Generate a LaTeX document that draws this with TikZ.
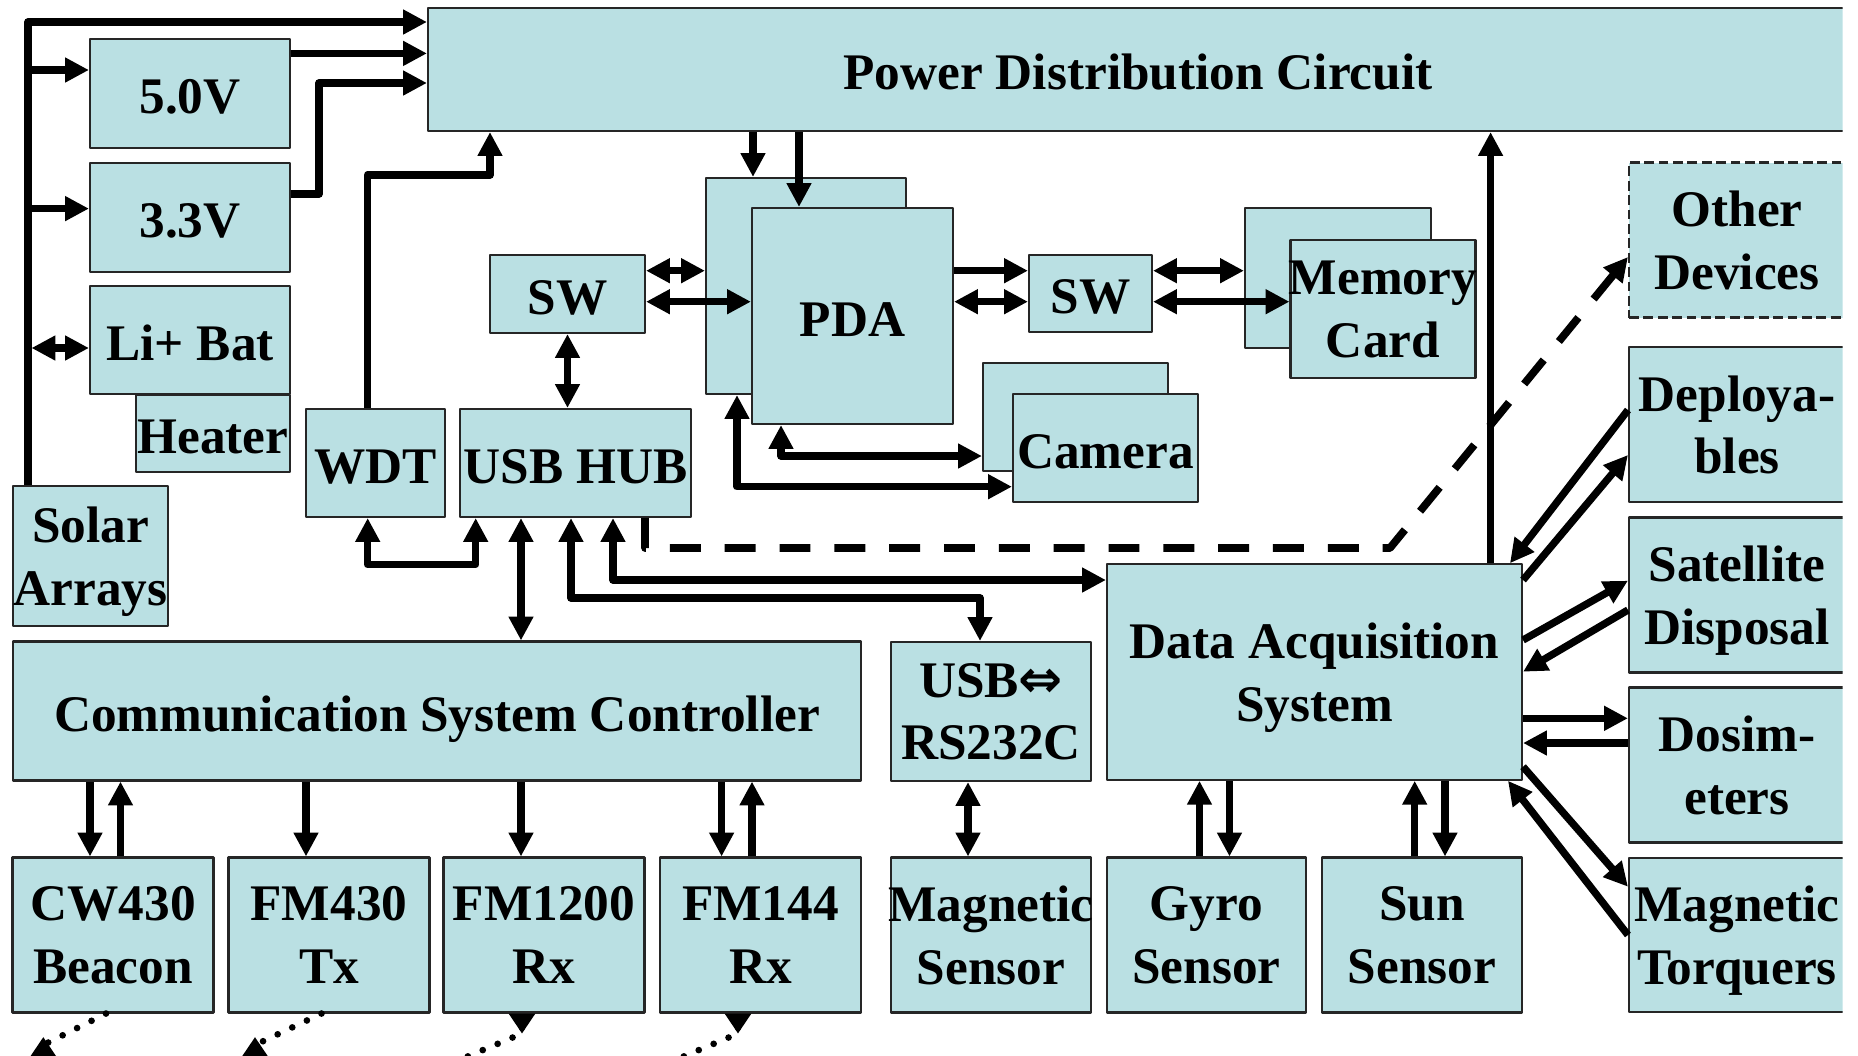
\documentclass[tikz,border=0pt]{standalone}
\usepackage{fontspec}
\setmainfont{Liberation Serif}
\newfontfamily\arrowfont{DejaVu Sans}
\usetikzlibrary{arrows.meta}
\definecolor{boxfill}{RGB}{186,224,227}

\begin{document}
\begin{tikzpicture}[x=1cm,y=-1cm,>={Triangle[length=6.8pt,width=6.7pt]},line join=round,
  blk/.style={draw=black!85,line width=0.6pt,fill=boxfill,inner xsep=-8pt,inner ysep=0pt,align=center,
    text depth=0pt,execute at begin node={\rule{0pt}{11.5pt}},font=\fontsize{14.6}{17.8}\selectfont\bfseries},
  arr/.style={->,line width=2.1pt},
  dbl/.style={<->,line width=2.1pt},
  dashline/.style={->,line width=2.2pt,dash pattern=on 8.8pt off 6.8pt},
  sig/.style={line width=1.9pt,line cap=round,dash pattern=on 0pt off 4.6pt},
  rxtip/.style={sig,{Triangle[reversed,length=5.7pt,width=7.2pt]}-},
  txtip/.style={sig,-{Triangle[reversed,length=5.7pt,width=7.2pt]}}]
\useasboundingbox (0,0) rectangle (18.58,10.56);
\begin{scope}
\clip (0,0) rectangle (18.427,10.56);
% power
\node[blk,minimum width=14.20cm,minimum height=1.234cm] (pdc) at (11.38,0.693) {Power Distribution Circuit};
\node[blk,minimum width=2.00cm,minimum height=1.086cm] (v50) at (1.90,0.933) {5.0V};
\node[blk,minimum width=2.00cm,minimum height=1.09cm] (v33) at (1.90,2.175) {3.3V};
\node[blk,minimum width=1.545cm,minimum height=0.77cm] (heat) at (2.13,4.335) {Heater};
\node[blk,minimum width=2.00cm,minimum height=1.08cm] (bat) at (1.90,3.40) {Li+ Bat};
\node[blk,minimum width=1.55cm,minimum height=1.40cm] (solar) at (0.905,5.56) {Solar\\Arrays};
% main controller
\node[blk,minimum width=1.39cm,minimum height=1.08cm] (wdt) at (3.755,4.63) {WDT};
\node[blk,minimum width=2.31cm,minimum height=1.08cm] (hub) at (5.755,4.63) {USB HUB};
\node[blk,minimum width=1.55cm,minimum height=0.78cm] (swl) at (5.675,2.94) {SW};
\node[blk,minimum width=2.00cm,minimum height=2.16cm] (pdab) at (8.06,2.86) {};
\node[blk,minimum width=2.01cm,minimum height=2.16cm] (pda) at (8.525,3.16) {PDA};
\node[blk,minimum width=1.23cm,minimum height=0.77cm] (swr) at (10.905,2.935) {SW};
\node[blk,minimum width=1.86cm,minimum height=1.40cm] (memb) at (13.38,2.78) {};
\node[blk,minimum width=1.85cm,minimum height=1.38cm] (mem) at (13.83,3.09) {Memory\\Card};
\node[blk,minimum width=1.85cm,minimum height=1.08cm] (camb) at (10.755,4.17) {};
\node[blk,minimum width=1.85cm,minimum height=1.08cm] (cam) at (11.055,4.48) {Camera};
% attitude and mission
\node[blk,dash pattern=on 2.8pt off 1.3pt,minimum width=2.16cm,minimum height=1.55cm] (oth) at (17.37,2.40) {Other\\Devices};
\node[blk,minimum width=2.16cm,minimum height=1.55cm] (dep) at (17.37,4.245) {Deploya-\\bles};
\node[blk,minimum width=2.16cm,minimum height=1.55cm] (sat) at (17.37,5.95) {Satellite\\Disposal};
\node[blk,minimum width=2.16cm,minimum height=1.55cm] (dos) at (17.37,7.65) {Dosim-\\eters};
\node[blk,minimum width=2.16cm,minimum height=1.54cm] (mtq) at (17.37,9.35) {Magnetic\\Torquers};
\node[blk,minimum width=4.15cm,minimum height=2.155cm] (das) at (13.145,6.72) {Data Acquisition\\System};
\node[blk,minimum width=2.00cm,minimum height=1.39cm] (rs) at (9.91,7.115) {USB{\arrowfont\fontsize{15}{17.8}\selectfont ⇔}\\RS232C};
\node[blk,minimum width=2.00cm,minimum height=1.55cm] (mag) at (9.91,9.35) {Magnetic\\Sensor};
\node[blk,minimum width=1.99cm,minimum height=1.55cm] (gyro) at (12.065,9.35) {Gyro\\Sensor};
\node[blk,minimum width=2.00cm,minimum height=1.55cm] (sun) at (14.22,9.35) {Sun\\Sensor};
% communication
\node[blk,minimum width=8.48cm,minimum height=1.39cm] (csc) at (4.37,7.11) {Communication System Controller};
\node[blk,minimum width=2.01cm,minimum height=1.55cm] (cw) at (1.13,9.35) {CW430\\Beacon};
\node[blk,minimum width=2.01cm,minimum height=1.55cm] (fmt) at (3.29,9.35) {FM430\\Tx};
\node[blk,minimum width=2.01cm,minimum height=1.55cm] (fmr) at (5.44,9.35) {FM1200\\Rx};
\node[blk,minimum width=2.01cm,minimum height=1.55cm] (fmv) at (7.605,9.35) {FM144\\Rx};
% bus branch points and antenna ends
\coordinate (b50) at (0.28,0.70);
\coordinate (b33) at (0.28,2.086);
\coordinate (bbat) at (0.315,3.48);
\coordinate (tx1) at (0.433,10.45);
\coordinate (tx2) at (2.55,10.45);
\coordinate (rx1) at (4.45,10.66);
\coordinate (rx2) at (6.61,10.66);
% power lines
\draw[arr] (solar.north -| b50) |- (pdc.west |- 0,0.22);
\draw[arr] (b50) -- (v50.west |- b50);
\draw[arr] (b33) -- (v33.west |- b33);
\draw[dbl] (bbat) -- (bat.west |- bbat);
\draw[arr] (v50.east |- 0,0.534) -- (pdc.west |- 0,0.534);
\draw[arr] (v33.east |- 0,1.94) -| (3.19,0.83) -- (pdc.west |- 0,0.83);
\draw[arr] (wdt.north -| 3.676,0) |- (4.90,1.75) -- (pdc.south -| 4.90,0);
\draw[arr] (pdc.south -| 7.53,0) -- (pdab.north -| 7.53,0);
\draw[arr] (pdc.south -| 7.99,0) -- (pda.north -| 7.99,0);
\draw[arr] (das.north -| 14.906,0) -- (pdc.south -| 14.906,0);
% data lines
\draw[dbl] (wdt.south -| 3.677,0) |- (4.757,5.645) -- (hub.south -| 4.757,0);
\draw[dbl] (swl.south) -- (hub.north -| swl.south);
\draw[dbl] (hub.south -| 5.21,0) -- (csc.north -| 5.21,0);
\draw[dbl] (hub.south -| 5.71,0) |- (9.80,5.98) -- (rs.north -| 9.80,0);
\draw[dbl] (hub.south -| 6.13,0) |- (das.west |- 0,5.80);
\draw[dashline] (hub.south -| 6.45,0) |- (13.90,5.48) -- (oth.west |- 0,2.57);
\draw[dbl] (swl.east |- 0,2.707) -- (pdab.west |- 0,2.707);
\draw[dbl] (swl.east |- 0,3.017) -- (pda.west |- 0,3.017);
\draw[arr] (pda.east |- 0,2.707) -- (swr.west |- 0,2.707);
\draw[dbl] (pda.east |- 0,3.017) -- (swr.west |- 0,3.017);
\draw[dbl] (swr.east |- 0,2.707) -- (memb.west |- 0,2.707);
\draw[dbl] (swr.east |- 0,3.017) -- (mem.west |- 0,3.017);
\draw[dbl] (pda.south -| 7.81,0) |- (camb.west |- 0,4.56);
\draw[dbl] (pdab.south -| 7.37,0) |- (cam.west |- 0,4.867);
\draw[dbl] (rs.south -| 9.68,0) -- (mag.north -| 9.68,0);
\draw[arr] (gyro.north -| 11.995,0) -- (das.south -| 11.995,0);
\draw[arr] (das.south -| 12.295,0) -- (gyro.north -| 12.295,0);
\draw[arr] (sun.north -| 14.147,0) -- (das.south -| 14.147,0);
\draw[arr] (das.south -| 14.45,0) -- (sun.north -| 14.45,0);
\draw[arr] (dep.west |- 0,4.10) -- (das.north -| 15.10,0);
\draw[arr] (das.east |- 0,5.80) -- (dep.west |- 0,4.55);
\draw[arr] (das.east |- 0,6.40) -- (sat.west |- 0,5.807);
\draw[arr] (sat.west |- 0,6.10) -- (das.east |- 0,6.717);
\draw[arr] (das.east |- 0,7.183) -- (dos.west |- 0,7.183);
\draw[arr] (dos.west |- 0,7.43) -- (das.east |- 0,7.43);
\draw[arr] (das.east |- 0,7.667) -- (mtq.west |- 0,8.867);
\draw[arr] (mtq.west |- 0,9.35) -- (das.south -| 15.08,0);
% radio lines
\draw[arr] (csc.south -| 0.90,0) -- (cw.north -| 0.90,0);
\draw[arr] (cw.north -| 1.205,0) -- (csc.south -| 1.205,0);
\draw[arr] (csc.south -| 3.06,0) -- (fmt.north -| 3.06,0);
\draw[arr] (csc.south -| 5.21,0) -- (fmr.north -| 5.21,0);
\draw[arr] (csc.south -| 7.216,0) -- (fmv.north -| 7.216,0);
\draw[arr] (fmv.north -| 7.52,0) -- (csc.south -| 7.52,0);
\draw[txtip] (cw.south -| 1.06,0) -- (tx1) -- (tx1 |- 0,10.57);
\draw[txtip] (fmt.south -| 3.215,0) -- (tx2) -- (tx2 |- 0,10.57);
\draw[rxtip] (fmr.south -| 5.22,0) -- ++(0,0.20) -- (rx1);
\draw[rxtip] (fmv.south -| 7.38,0) -- ++(0,0.20) -- (rx2);
\end{scope}
\end{tikzpicture}
\end{document}
